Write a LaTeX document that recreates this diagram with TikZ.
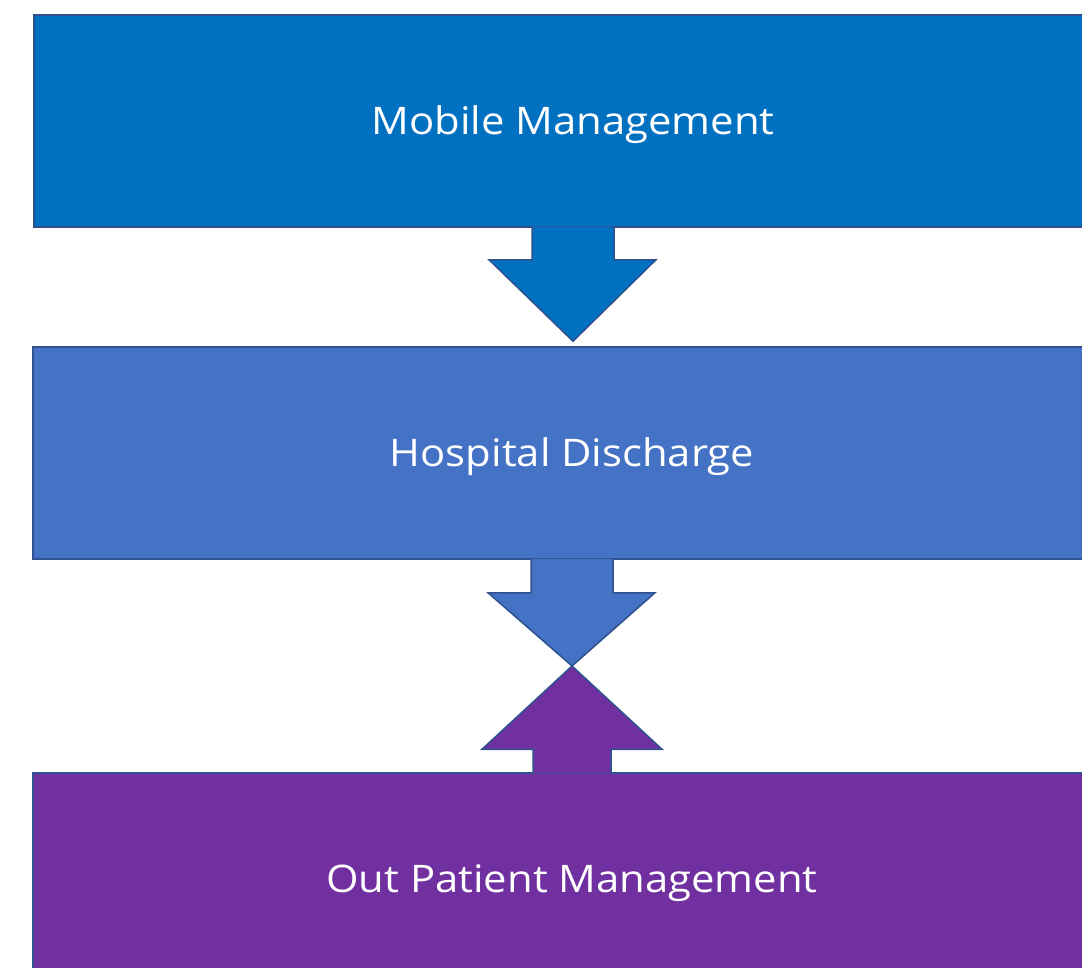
\documentclass[tikz,border=0pt]{standalone}
\usepackage{fontspec}
\setmainfont{Open Sans}[FakeStretch=1.1]
\usetikzlibrary{calc}
\definecolor{mobileblue}{HTML}{0070C0}
\definecolor{dischargeblue}{HTML}{4472C4}
\definecolor{outpurple}{HTML}{7030A0}
\definecolor{edgeblue}{HTML}{2F528F}
\tikzset{
  stagebox/.style={rectangle, draw=edgeblue, line width=1.5pt, minimum width=1078pt, minimum height=212pt, text=white, text height=27pt, text depth=0pt, font=\fontsize{38}{46}\selectfont},
  flowarrow/.style={draw=edgeblue, line width=1.5pt, line join=miter}
}

\begin{document}
\begin{tikzpicture}[x=1pt, y=-1pt]
        \useasboundingbox (0,0) rectangle (1082,967);
        \clip (0,0) rectangle (1082,967);
        % stages
        \node[stagebox, fill=mobileblue] (mobile) at (573,121) {Mobile Management};
        \node[stagebox, fill=dischargeblue] (hospital) at (572,453) {Hospital Discharge};
        \node[stagebox, fill=outpurple] (outpatient) at (572,879) {Out Patient Management};
        \coordinate (meet) at ($(hospital.south)!0.5!(outpatient.north)$);

        % arrows
        \filldraw[flowarrow, fill=mobileblue] ($(mobile.south)+(-41,-1)$) -- ($(mobile.south)+(-41,32)$) -- ($(mobile.south)+(-84,32)$)
            -- ($(hospital.north)+(1,-5)$) -- ($(mobile.south)+(83,32)$) -- ($(mobile.south)+(41,32)$) -- ($(mobile.south)+(41,-1)$);
        \filldraw[flowarrow, fill=dischargeblue] ($(hospital.south)+(-41,-1)$) -- ($(hospital.south)+(-41,33)$) -- ($(hospital.south)+(-84,33)$)
            -- (meet) -- ($(hospital.south)+(83,33)$) -- ($(hospital.south)+(41,33)$) -- ($(hospital.south)+(41,-1)$);
        \filldraw[flowarrow, fill=outpurple] ($(outpatient.north)+(-39,1)$) -- ($(outpatient.north)+(-39,-23)$) -- ($(outpatient.north)+(-90,-23)$)
            -- (meet) -- ($(outpatient.north)+(90,-23)$) -- ($(outpatient.north)+(39,-23)$) -- ($(outpatient.north)+(39,1)$);
    \end{tikzpicture}
\end{document}
